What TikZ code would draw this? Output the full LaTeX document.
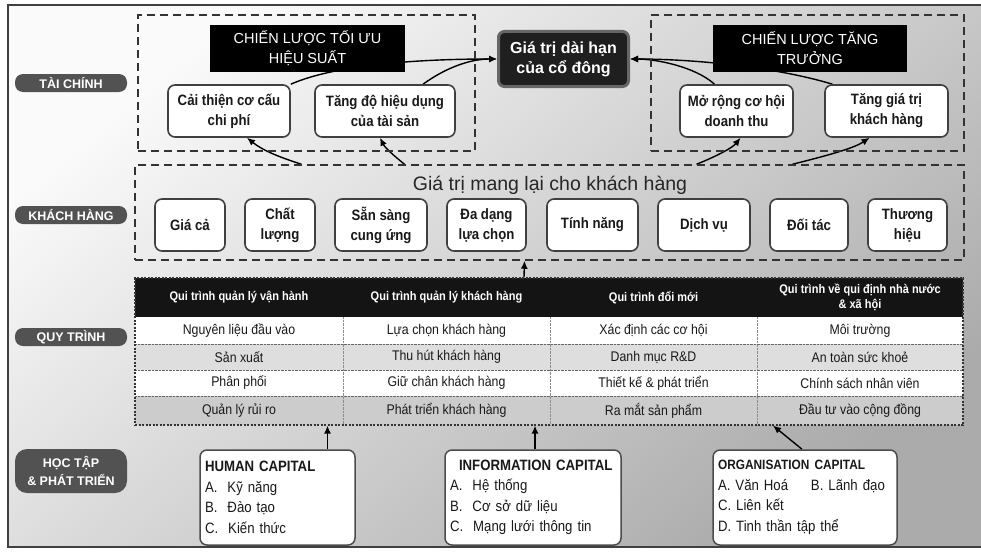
\documentclass[tikz,border=0pt]{standalone}
\usepackage{fontspec}
\setmainfont{Liberation Sans}
\newfontfamily\narrowfont[FakeStretch=0.88]{Liberation Sans}
\usetikzlibrary{arrows.meta,backgrounds}

\tikzset{
  rowlabel/.style={fill=black!68, text=white, rounded corners=8pt, minimum width=112pt, minimum height=18pt,
    inner sep=2pt, align=center, font=\bfseries\fontsize{12.5}{18}\selectfont},
  zone/.style={draw=black!80, line width=1.5pt, dash pattern=on 8pt off 5pt},
  strat/.style={fill=black, text=white, minimum width=195pt, minimum height=47pt, align=center,
    font=\fontsize{14.5}{20}\selectfont},
  goalbox/.style={fill=black!88, draw=black!60, line width=3pt, rounded corners=6pt, text=white,
    minimum width=130pt, minimum height=55pt, align=center, font=\bfseries\fontsize{16}{20}\selectfont},
  objbox/.style={fill=white, draw=black!75, line width=1.6pt, rounded corners=7pt, minimum height=52pt,
    align=center, text=black!90, font=\narrowfont\bfseries\fontsize{15}{20}\selectfont},
  headcell/.style={text=white, align=center, font=\narrowfont\bfseries\fontsize{12.5}{15}\selectfont},
  cell/.style={text=black!90, font=\narrowfont\fontsize{14}{16}\selectfont},
  capbox/.style={fill=white, draw=black!70, line width=1.5pt, rounded corners=7pt, minimum height=95pt,
    inner xsep=5pt, align=left, text=black!90, font=\narrowfont\fontsize{15}{20.5}\selectfont},
  link/.style={-{Latex[length=8pt,width=7pt]}, line width=1.4pt, black}
}

\begin{document}
\begin{tikzpicture}[x=1pt,y=-1pt]
\useasboundingbox (0,0) rectangle (981,551);
\begin{scope}[on background layer]
\fill[white] (0,0) rectangle (981,551);
\shade[top color=black!2, bottom color=black!33, shading angle=40] (8,5) rectangle (981,547);
\end{scope}
\draw[black!75, line width=1.5pt] (981,5) -- (8,5) -- (8,547) -- (981,547);

% row labels
\node[rowlabel] (lbtc) at (71,83) {TÀI CHÍNH};
\node[rowlabel] (lbkh) at (71,215) {KHÁCH HÀNG};
\node[rowlabel] (lbqt) at (71,337) {QUY TRÌNH};
\node[rowlabel, minimum height=44pt, rounded corners=12pt] (lbht) at (71,471) {HỌC TẬP\\\& PHÁT TRIỂN};

% tai chinh
\node[zone, minimum width=337pt, minimum height=136pt] (ztl) at (306.5,83) {};
\node[zone, minimum width=313pt, minimum height=136pt] (ztr) at (807.5,83) {};
\node[strat] (sopt) at (307.5,48.5) {CHIẾN LƯỢC TỐI ƯU\\HIỆU SUẤT};
\node[strat, minimum width=194pt] (sgrow) at (810,48.5) {CHIẾN LƯỢC TĂNG\\TRƯỞNG};
\node[goalbox] (goal) at (563.5,59) {Giá trị dài hạn\\của cổ đông};
\node[objbox, minimum width=122pt] (cost) at (229,111) {Cải thiện cơ cấu\\chi phí};
\node[objbox, minimum width=140pt] (asset) at (385,111) {Tăng độ hiệu dụng\\của tài sản};
\node[objbox, minimum width=113pt] (rev) at (736.5,111) {Mở rộng cơ hội\\doanh thu};
\node[objbox, minimum width=123pt] (cval) at (886.5,111) {Tăng giá trị\\khách hàng};

% khach hang
\node[zone, minimum width=829pt, minimum height=95pt] (kh) at (549.5,212.5) {};
\node[text=black!85, font=\fontsize{19.5}{22}\selectfont] (khtitle) at (550,185) {Giá trị mang lại cho khách hàng};
\foreach \nm/\cx/\boxw/\txt in {gia/190/70/{Giá cả}, clg/280/70/{Chất\\lượng}, ssu/381/92/{Sẵn sàng\\cung ứng},
    dd/486.5/79/{Đa dạng\\lựa chọn}, tn/592.5/91/{Tính năng}, dv/704/92/{Dịch vụ}, dt/809/78/{Đối tác},
    th/907.5/79/{Thương\\hiệu}}
  \node[objbox, minimum width=\boxw pt] (\nm) at (\cx,225) {\txt};

% quy trinh
\fill[black!92] (135,278) rectangle (963,317);
\foreach \ya/\yb/\fc in {317/344/white, 344/370/black!13, 370/396/white, 396/425/black!20}
  \fill[\fc] (135,\ya) rectangle (963,\yb);
\foreach \x in {343,550,757}
  \draw[black!45, densely dotted] (\x,317) -- (\x,425);
\foreach \y in {344,370,396}
  \draw[black!60, densely dotted] (135,\y) -- (963,\y);
\node[draw=black!80, line width=1.2pt, dash pattern=on 2pt off 1.5pt, minimum width=828pt, minimum height=147pt,
  inner sep=0pt] (tbl) at (549,351.5) {};
\foreach \nm/\cx/\txt in {h1/239/{Qui trình quản lý vận hành}, h2/446.5/{Qui trình quản lý khách hàng},
    h3/653.5/{Qui trình đổi mới}, h4/860/{Qui trình về qui định nhà nước\\\& xã hội}}
  \node[headcell] (\nm) at (\cx,297.5) {\txt};
\foreach \r/\cy/\ta/\tb/\tc/\td in {
    1/330.5/{Nguyên liệu đầu vào}/{Lựa chọn khách hàng}/{Xác định các cơ hội}/{Môi trường},
    2/357/{Sản xuất}/{Thu hút khách hàng}/{Danh mục R\&D}/{An toàn sức khoẻ},
    3/383/{Phân phối}/{Giữ chân khách hàng}/{Thiết kế \& phát triển}/{Chính sách nhân viên},
    4/410.5/{Quản lý rủi ro}/{Phát triển khách hàng}/{Ra mắt sản phẩm}/{Đầu tư vào cộng đồng}} {
  \node[cell] (p\r c1) at (239,\cy) {\ta};
  \node[cell] (p\r c2) at (446.5,\cy) {\tb};
  \node[cell] (p\r c3) at (653.5,\cy) {\tc};
  \node[cell] (p\r c4) at (860,\cy) {\td};
}

% hoc tap & phat trien
\node[capbox, minimum width=155pt, text width=145pt] (hc) at (277.5,497.5)
  {\textbf{HUMAN CAPITAL}\\A.\ \ Kỹ năng\\B.\ \ Đào tạo\\C.\ \ Kiến thức};
\node[capbox, minimum width=176pt, text width=166pt] (ic) at (533,497.5)
  {\hspace*{9pt}\textbf{INFORMATION CAPITAL}\\A.\ \ Hệ thống\\B.\ \ Cơ sở dữ liệu\\C.\ \ Mạng lưới thông tin};
\node[capbox, minimum width=184pt, text width=174pt] (oc) at (805,497.5)
  {{\bfseries\fontsize{13.5}{20.5}\selectfont ORGANISATION CAPITAL}\\\makebox[93pt][l]{A. Văn Hoá}B. Lãnh đạo\\C. Liên kết\\D. Tinh thần tập thể};

% connectors
\begin{scope}[on background layer]
\draw[link] (cost.north east) .. controls +(50,-22) and +(-60,0) .. (goal.west);
\draw[link] ([xshift=38pt]asset.north) .. controls +(25,-18) and +(-25,0) .. (goal.west);
\draw[link] ([xshift=-22pt]rev.north) .. controls +(-20,-18) and +(25,0) .. (goal.east);
\draw[link] ([xshift=-54pt]cval.north) .. controls +(-60,-18) and +(60,0) .. (goal.east);
\draw[link] ([xshift=-248pt]kh.north) .. controls +(-25,-8) and +(15,12) .. ([xshift=18pt]cost.south);
\draw[link] ([xshift=-145pt]kh.north) .. controls +(-10,-8) and +(5,10) .. ([xshift=-5pt]asset.south);
\draw[link] ([xshift=147pt]kh.north) .. controls +(20,-8) and +(-8,10) .. ([xshift=4pt]rev.south);
\draw[link] ([xshift=243pt]kh.north) .. controls +(40,-10) and +(-15,10) .. ([xshift=-17pt]cval.south);
\draw[link] ([xshift=-25pt]tbl.north) -- ([xshift=-25pt]kh.south);
\draw[link] ([xshift=50pt]hc.north) -- ([xshift=-221.5pt]tbl.south);
\draw[link] ([xshift=2pt]ic.north) -- ([xshift=-14pt]tbl.south);
\draw[link] ([xshift=-3pt]oc.north) -- ([xshift=224pt]tbl.south);
\end{scope}
\end{tikzpicture}
\end{document}
